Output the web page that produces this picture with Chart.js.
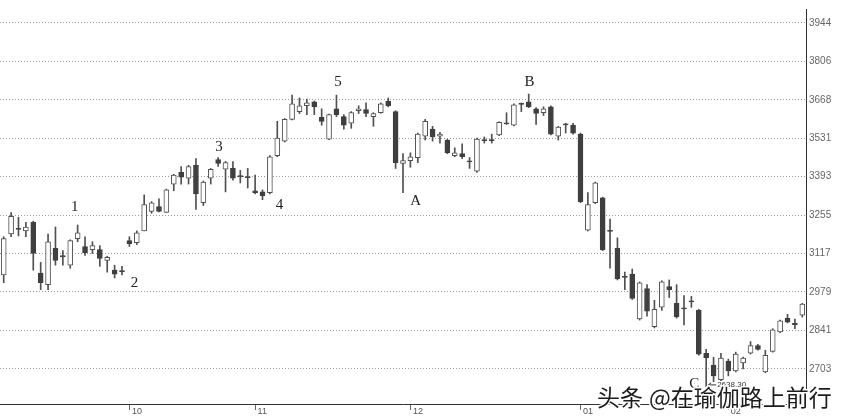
<!DOCTYPE html>
<html>
<head>
<meta charset="utf-8">
<script src="https://cdn.jsdelivr.net/npm/chart.js@4.4.1/dist/chart.umd.min.js"></script>
<style>
  html, body { margin: 0; padding: 0; background: #fff; }
  #wrap { width: 844px; height: 420px; position: relative; }
</style>
</head>
<body>
<div id="wrap"><canvas id="c" width="844" height="420"></canvas></div>
<script>
// ---- data (daily candles) ----
const opens  = [3040,3187,3207,3198,3229,3047,3005,3135,3109,3075,3170,3142,3131,3131,3092,3057,3056,3163,3156,3198,
                3268,3285,3264,3366,3408,3387,3433,3299,3387,3454,3419,3422,3396,3393,3342,3338,3335,3468,3520,3598,
                3626,3647,3661,3605,3527,3636,3608,3584,3629,3633,3608,3622,3664,3626,3440,3450,3461,3538,3563,3538,
                3524,3468,3475,3449,3412,3526,3526,3542,3586,3577,3656,3661,3636,3622,3643,3538,3582,3577,3545,3201,
                3299,3317,3200,3135,3035,3043,2882,2991,2854,2924,2998,2938,2922,2947,2913,2759,2717,2664,2731,2696,
                2724,2759,2787,2692,2766,2836,2885,2866,2896];
const highs  = [3177,3264,3247,3229,3233,3085,3187,3212,3127,3166,3219,3177,3159,3145,3107,3075,3071,3177,3198,3327,
                3303,3313,3348,3401,3429,3433,3457,3377,3422,3461,3447,3447,3415,3422,3398,3345,3468,3591,3601,3685,
                3675,3671,3664,3636,3617,3685,3615,3626,3647,3657,3622,3657,3675,3629,3475,3478,3549,3598,3573,3552,
                3527,3496,3510,3461,3531,3535,3545,3589,3622,3654,3657,3689,3640,3643,3647,3573,3584,3584,3549,3335,
                3373,3319,3240,3173,3050,3061,3015,3005,2949,3019,3022,3005,2966,2963,2917,2773,2745,2759,2738,2763,
                2745,2801,2791,2770,2847,2878,2899,2882,2938];
const lows   = [3012,3177,3180,3177,3057,2987,2987,3075,3075,3064,3159,3110,3117,3071,3050,3029,3040,3142,3149,3198,
                3261,3266,3264,3342,3366,3366,3275,3289,3366,3429,3338,3380,3370,3352,3331,3310,3331,3464,3517,3596,
                3619,3615,3615,3577,3525,3608,3563,3566,3619,3608,3573,3620,3643,3422,3335,3426,3443,3524,3520,3513,
                3475,3464,3457,3422,3408,3513,3513,3540,3580,3575,3626,3640,3580,3612,3542,3524,3549,3545,3299,3198,
                3296,3127,3064,3022,2987,2952,2878,2892,2850,2913,2959,2885,2861,2924,2752,2638.3,2657,2661,2678,2692,
                2703,2756,2770,2689,2763,2833,2868,2847,2889];
const closes = [3170,3250,3203,3212,3117,3012,3159,3092,3105,3163,3191,3120,3145,3099,3103,3043,3052,3152,3191,3292,
                3299,3268,3345,3398,3391,3429,3331,3373,3419,3440,3443,3387,3392,3389,3335,3324,3464,3531,3598,3654,
                3647,3657,3643,3591,3615,3615,3577,3622,3636,3619,3619,3654,3647,3443,3450,3464,3545,3591,3535,3545,
                3478,3478,3464,3445,3527,3522,3522,3587,3582,3650,3652,3643,3619,3636,3545,3570,3578,3549,3303,3292,
                3370,3131,3196,3026,3031,2956,3012,2910,2917,3015,2987,2889,2918,2943,2756,2742,2678,2742,2696,2756,
                2742,2787,2773,2752,2843,2875,2871,2862,2935];

// month tick labels (index of first trading day of each month)
const monthStarts = [17, 34, 55, 78, 98];
const monthNames  = ['10', '11', '12', '01', '02'];

// right-axis tick values
const yTicks = [2703, 2841, 2979, 3117, 3255, 3393, 3531, 3668, 3806, 3944];

// wave labels written on the chart (category position, price level)
const waveText  = ['1', '2', '3', '4', '5', 'A', 'B', 'C'];
const waveAt    = [9.6, 17.7, 29.1, 37.3, 45.2, 55.7, 71.1, 93.4];
const waveLevel = [3285, 3012, 3499, 3292, 3731, 3306, 3731, 2650];

const watermark = ['头条', '@在瑜伽路上前行'];

// ---- build ----
const categories = opens.map((_, i) => {
  const k = monthStarts.indexOf(i);
  return k >= 0 ? ' ' + monthNames[k] : '';
});
const up = opens.map((o, i) => closes[i] > o);

const notes = {
  id: 'notes',
  afterDatasetsDraw(chart) {
    const { ctx, scales: { x, y } } = chart;
    ctx.save();
    ctx.fillStyle = '#222';
    ctx.textAlign = 'center';
    ctx.textBaseline = 'middle';
    ctx.font = '15px "Liberation Serif", "DejaVu Serif", serif';
    waveText.forEach((t, i) => {
      ctx.fillText(t, x.getPixelForValue(waveAt[i]), y.getPixelForValue(waveLevel[i]));
    });
    // lowest low marker
    let li = 0;
    lows.forEach((v, i) => { if (v < lows[li]) li = i; });
    const lx = x.getPixelForValue(li), ly = y.getPixelForValue(lows[li]) - 2;
    ctx.strokeStyle = '#333';
    ctx.lineWidth = 1;
    ctx.beginPath();
    ctx.moveTo(lx + 2, ly); ctx.lineTo(lx + 10, ly);
    ctx.moveTo(lx + 2, ly); ctx.lineTo(lx + 5, ly - 2);
    ctx.moveTo(lx + 2, ly); ctx.lineTo(lx + 5, ly + 2);
    ctx.stroke();
    ctx.font = '8px "Liberation Sans", Arial, sans-serif';
    ctx.textAlign = 'left';
    ctx.fillStyle = '#333';
    ctx.fillText(lows[li].toFixed(2), lx + 11, ly);
    // watermark
    ctx.font = '23px "Noto Sans CJK SC", sans-serif';
    ctx.textBaseline = 'alphabetic';
    ctx.lineJoin = 'round';
    ctx.lineWidth = 3;
    ctx.strokeStyle = '#fff';
    ctx.fillStyle = '#1c1c1c';
    const pos = [597, 649];
    watermark.forEach((t, i) => {
      ctx.strokeText(t, pos[i], 406);
      ctx.fillText(t, pos[i], 406);
    });
    ctx.restore();
  }
};

new Chart(document.getElementById('c'), {
  type: 'bar',
  data: {
    labels: categories,
    datasets: [
      {
        label: 'body',
        data: opens.map((o, i) => [o, closes[i]]),
        backgroundColor: up.map(u => u ? '#ffffff' : '#3f3f3f'),
        borderColor: up.map(u => u ? '#505050' : '#3f3f3f'),
        borderWidth: 1,
        borderSkipped: false,
        barThickness: 5,
        grouped: false
      },
      {
        label: 'wick',
        data: lows.map((l, i) => [l, highs[i]]),
        backgroundColor: '#505050',
        borderWidth: 0,
        barThickness: 1,
        grouped: false
      }
    ]
  },
  options: {
    responsive: false,
    animation: false,
    events: [],
    layout: { padding: 0 },
    plugins: { legend: { display: false }, tooltip: { enabled: false } },
    scales: {
      x: {
        type: 'category',
        offset: true,
        afterBuildTicks: s => { s.ticks = monthStarts.map(v => ({ value: v })); },
        afterFit: s => { s.height = 16; },
        grid: { display: true, drawOnChartArea: false, drawTicks: true, tickLength: 6, color: '#666', offset: false },
        border: { display: true, color: '#333', width: 1 },
        ticks: {
          autoSkip: false, maxRotation: 0, minRotation: 0, align: 'start',
          padding: -4, color: '#555',
          font: { family: '"Liberation Sans", Arial, sans-serif', size: 9 }
        }
      },
      y: {
        position: 'right',
        min: 2577,
        max: 3994,
        afterBuildTicks: s => { s.ticks = yTicks.map(v => ({ value: v })); },
        afterFit: s => { s.width = 38; },
        grid: { display: true, drawTicks: false, color: '#9a9a9a', lineWidth: 1 },
        border: { display: true, color: '#333', width: 1, dash: [1, 2] },
        ticks: {
          padding: 3, color: '#666',
          font: { family: '"Liberation Sans", Arial, sans-serif', size: 10 },
          callback: v => String(v)
        }
      }
    }
  },
  plugins: [notes]
});
</script>
</body>
</html>
